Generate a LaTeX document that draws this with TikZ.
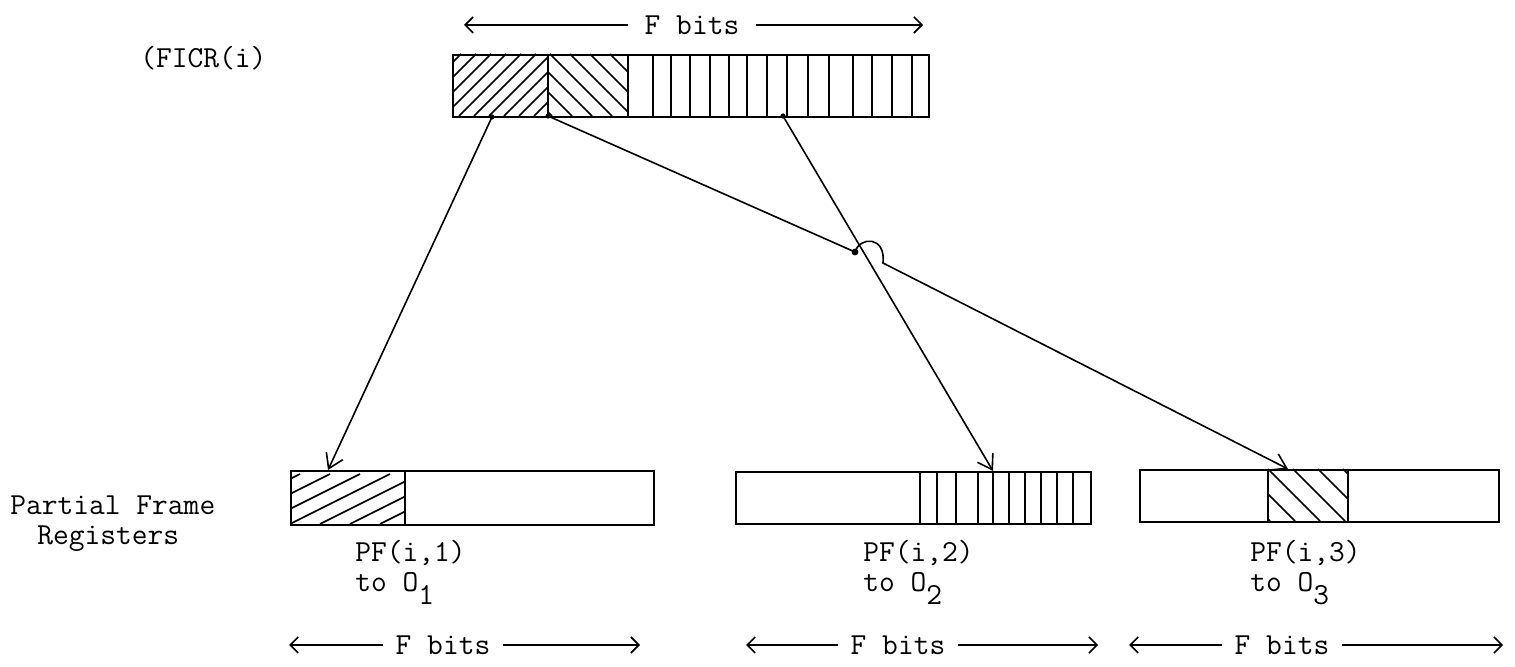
\documentclass[tikz,border=0pt]{standalone}
\usetikzlibrary{arrows.meta}
\newcommand\lowsub[1]{\raisebox{-6pt}{#1}}
\begin{document}
\begin{tikzpicture}[x=0.5pt,y=-0.5pt,
  reg/.style={draw, line width=1pt, inner sep=0pt, anchor=north west},
  hatch/.style={line width=0.8pt},
  conn/.style={line width=0.8pt, -{Straight Barb[length=7pt,width=9pt,line width=0.8pt]}},
  dimarrow/.style={line width=0.8pt, -{Straight Barb[length=4pt,width=8pt,line width=0.8pt]}},
  lbl/.style={font=\fontsize{15.3}{18}\selectfont\ttfamily, inner sep=0pt},
  dimlbl/.style={font=\fontsize{15.3}{18}\selectfont\ttfamily, inner ysep=0pt, inner xsep=6pt},
  dot/.style={circle, fill, inner sep=0pt, minimum size=2.6pt}]
\useasboundingbox (0,0) rectangle (1515,667);

% ---------- top register FICR(i)
\node[reg, minimum width=238pt, minimum height=31pt] (ficr) at (452,54) {};
\begin{scope}
  \clip (452,54) rectangle (548,116);
  \foreach \x in {384,399,...,548} \draw[hatch] (\x,116) -- ++(62,-62);
\end{scope}
\begin{scope}
  \clip (548,54) rectangle (628,116);
  \foreach \x in {490,510,...,628} \draw[hatch] (\x,54) -- ++(62,62);
\end{scope}
\draw[line width=1pt] (548,54) -- (548,116);
\draw[line width=1pt] (628,54) -- (628,116);
\foreach \x in {653,671,690,710,729,747,767,787,808,829,853,872,892,912}
  \draw[hatch] (\x,54) -- (\x,116);

% ---------- bottom registers
\node[reg, minimum width=181.5pt, minimum height=27pt] (pfa) at (290,470) {};
\begin{scope}
  \clip (290,470) rectangle (405,524);
  \foreach \x in {200,230,...,400} \draw[hatch] (\x,524) -- ++(100,-50);
\end{scope}
\draw[line width=1pt] (405,470) -- (405,524);

\node[reg, minimum width=177.5pt, minimum height=26pt] (pfb) at (735,471) {};
\draw[line width=1pt] (920,471) -- (920,523);
\foreach \x in {937,956,978,993,1009,1025,1041,1057,1073}
  \draw[hatch] (\x,471) -- (\x,523);

\node[reg, minimum width=179.5pt, minimum height=26pt] (pfc) at (1139,469) {};
\begin{scope}
  \clip (1268,469) rectangle (1348,521);
  \foreach \x in {1218,1243,...,1348} \draw[hatch] (\x,469) -- ++(52,52);
\end{scope}
\draw[line width=0.9pt] (1268,469) -- (1268,521);
\draw[line width=0.9pt] (1348,469) -- (1348,521);

% ---------- connectors
\coordinate (s1) at (492,117);
\coordinate (e1) at (328,470);
\coordinate (s2) at (548,116);
\coordinate (ha) at (855,252);
\coordinate (hb) at (883,263);
\coordinate (e2) at (1288,469);
\coordinate (s3) at (783,116);
\coordinate (e3) at (993,471);

\draw[conn] (s1) -- (e1);
\draw[conn] (s3) -- (e3);
\draw[conn] (s2) -- (ha) .. controls (860,236) and (886,236) .. (hb) -- (e2);
\node[dot] (d1) at (s1) {};
\node[dot] (d2) at (s2) {};
\node[dot] (d3) at (s3) {};
\node[dot, minimum size=3.4pt] (dh) at (ha) {};

% ---------- labels
\node[lbl, anchor=base west] (ficrlbl) at (140,68) {(FICR(i)};
\node[lbl, anchor=base west] (pfrA) at (10,515) {Partial Frame};
\node[lbl, anchor=base west] (pfrB) at (37,545) {Registers};

\node[lbl, anchor=base west] (pf1) at (355,562) {PF(i,1)};
\node[lbl, anchor=base west] (to1) at (355,592) {to O\lowsub{1}};
\node[lbl, anchor=base west] (pf2) at (863,562) {PF(i,2)};
\node[lbl, anchor=base west] (to2) at (863,592) {to O\lowsub{2}};
\node[lbl, anchor=base west] (pf3) at (1250,562) {PF(i,3)};
\node[lbl, anchor=base west] (to3) at (1250,592) {to O\lowsub{3}};

% ---------- F bits dimension arrows
\node[dimlbl, inner xsep=8pt] (fbt) at (692,25) {F bits};
\coordinate (fbtl) at (464,25);
\coordinate (fbtr) at (923,25);
\draw[dimarrow] (fbt.west) -- (fbtl);
\draw[dimarrow] (fbt.east) -- (fbtr);

\node[dimlbl] (fb1) at (443,645) {F bits};
\coordinate (fb1l) at (289,645);
\coordinate (fb1r) at (640,645);
\draw[dimarrow] (fb1.west) -- (fb1l);
\draw[dimarrow] (fb1.east) -- (fb1r);

\node[dimlbl] (fb2) at (898,645) {F bits};
\coordinate (fb2l) at (746,645);
\coordinate (fb2r) at (1098,645);
\draw[dimarrow] (fb2.west) -- (fb2l);
\draw[dimarrow] (fb2.east) -- (fb2r);

\node[dimlbl] (fb3) at (1282,645) {F bits};
\coordinate (fb3l) at (1129,645);
\coordinate (fb3r) at (1503,645);
\draw[dimarrow] (fb3.west) -- (fb3l);
\draw[dimarrow] (fb3.east) -- (fb3r);
\end{tikzpicture}
\end{document}
